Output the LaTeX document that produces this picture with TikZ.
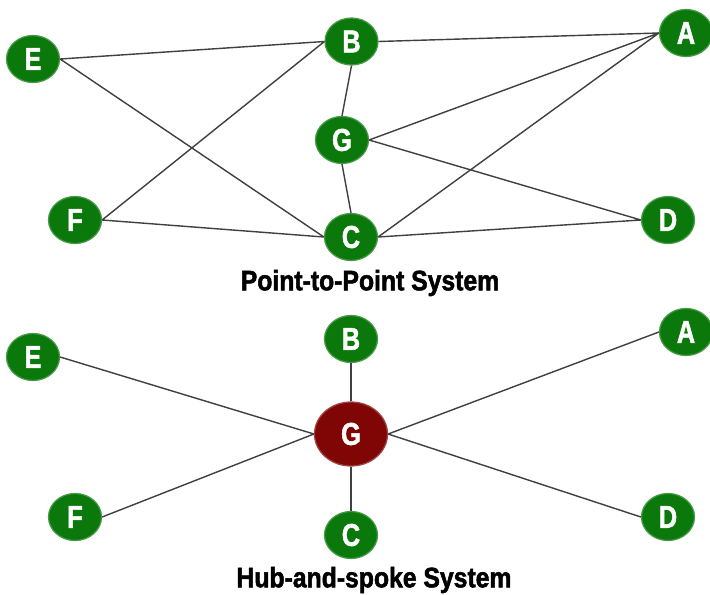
\documentclass[tikz,border=0pt]{standalone}
\usepackage{fontspec}
\newfontfamily\impfont[FakeStretch=0.8,FakeBold=1.6]{Liberation Sans}
\newfontfamily\titfont[FakeStretch=0.88,FakeBold=1.8]{Liberation Sans}
\usetikzlibrary{shapes.geometric}
\definecolor{verde}{RGB}{10,120,10}
\definecolor{bordo}{RGB}{128,6,6}
\tikzset{%
    nod/.style={ellipse,fill=verde,draw=verde!75!white,line width=0.7pt,minimum width=1.06cm,minimum height=0.94cm,inner sep=0pt,text=white,font=\impfont\bfseries\fontsize{18}{18}\selectfont},
    hub/.style={nod,fill=bordo,draw=bordo!75!white,minimum width=1.46cm,minimum height=1.28cm},
    lin/.style={line width=0.8pt,draw=black!75},
    tit/.style={font=\titfont\bfseries\fontsize{16}{16}\selectfont}
}

\begin{document}
\begin{tikzpicture}
    \useasboundingbox (0,0) rectangle (14.2,11.88);
    \fill[white] (0,0) rectangle (14.2,11.88);
    % punto a punto
    \node[nod] (E1) at (0.66,10.70) {E};
    \node[nod] (B1) at (7.03,11.05) {B};
    \node[nod] (A1) at (13.72,11.22) {A};
    \node[nod] (G1) at (6.84,9.08) {G};
    \node[nod] (F1) at (1.50,7.48) {F};
    \node[nod] (C1) at (7.02,7.14) {C};
    \node[nod] (D1) at (13.36,7.48) {D};
    \draw[lin] (E1.east)--(B1.west) (E1.east)--(C1.west) (F1.east)--(B1.west) (F1.east)--(C1.west);
    \draw[lin] (B1.east)--(A1.west) (B1.south)--(G1.north) (G1.south)--(C1.north);
    \draw[lin] (G1.east)--(A1.west) (G1.east)--(D1.west) (C1.east)--(A1.west) (C1.east)--(D1.west);
    \node[tit] (T1) at (7.40,6.22) {Point-to-Point System};
    % hub
    \node[nod] (E2) at (0.66,4.74) {E};
    \node[nod] (B2) at (7.02,5.10) {B};
    \node[nod] (A2) at (13.72,5.24) {A};
    \node[hub] (G2) at (7.02,3.20) {G};
    \node[nod] (F2) at (1.50,1.54) {F};
    \node[nod] (C2) at (7.02,1.18) {C};
    \node[nod] (D2) at (13.36,1.54) {D};
    \draw[lin] (G2.west)--(E2.east) (G2.west)--(F2.east) (G2.east)--(A2.west) (G2.east)--(D2.west);
    \draw[lin] (G2.north)--(B2.south) (G2.south)--(C2.north);
    \node[tit] (T2) at (7.48,0.28) {Hub-and-spoke System};
\end{tikzpicture}
\end{document}
